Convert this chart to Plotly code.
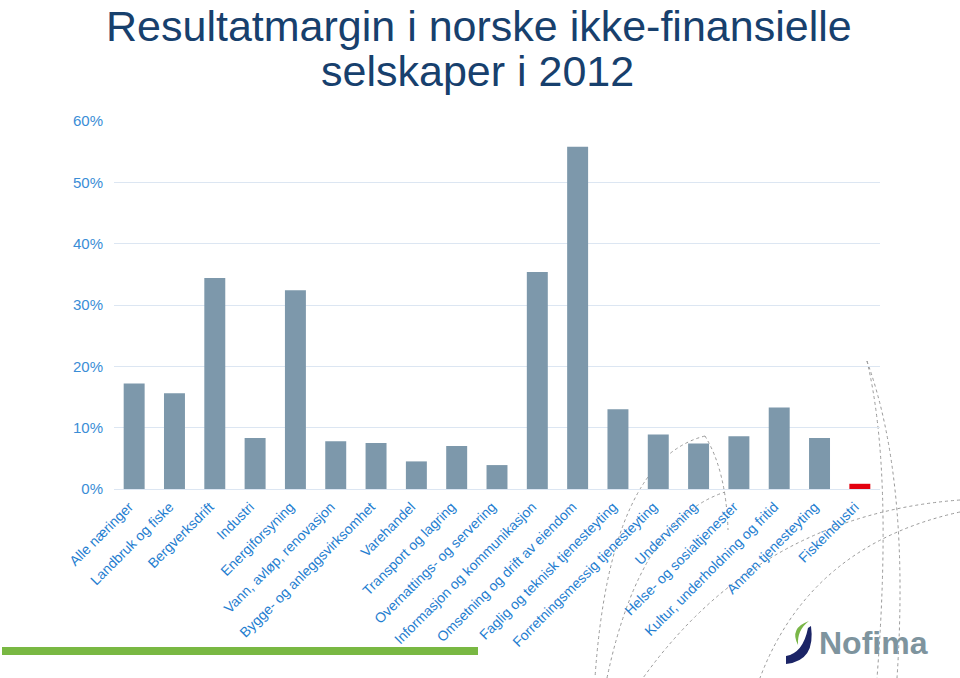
import plotly.graph_objects as go

categories = [
    "Alle næringer", "Landbruk og fiske", "Bergverksdrift", "Industri",
    "Energiforsyning", "Vann, avløp, renovasjon", "Bygge- og anleggsvirksomhet",
    "Varehandel", "Transport og lagring", "Overnattings- og servering",
    "Informasjon og kommunikasjon", "Omsetning og drift av eiendom",
    "Faglig og teknisk tjenesteyting", "Forretningsmessig tjenesteyting",
    "Undervisning", "Helse- og sosialtjenester", "Kultur, underholdning og fritid",
    "Annen tjenesteyting", "Fiskeindustri",
]
margin_pct = [17.2, 15.6, 34.4, 8.3, 32.4, 7.8, 7.5, 4.5, 7.0, 3.9,
              35.4, 55.8, 13.0, 8.9, 7.4, 8.6, 13.3, 8.3, 0.85]
y_ticks = [0, 10, 20, 30, 40, 50, 60]
y_tick_labels = ["0%", "10%", "20%", "30%", "40%", "50%", "60%"]
title_lines = ["Resultatmargin i norske ikke-finansielle", "selskaper i 2012"]

BAR = "#7D98AB"
HIGHLIGHT = "#E3000F"
colors = [HIGHLIGHT if c == "Fiskeindustri" else BAR for c in categories]

# plot area in screen pixels
L, R, T, B = 114, 880, 121, 489
W, H = 960, 678


def px(x):
    return (x - L) / (R - L)


def py(y):
    return (B - y) / (B - T)


def path(cmds):
    out = []
    for c in cmds:
        if isinstance(c, str):
            out.append(c)
        else:
            out.append(f"{px(c[0]):.4f},{py(c[1]):.4f}")
    return " ".join(out)


fig = go.Figure(go.Bar(
    x=categories, y=margin_pct, marker=dict(color=colors, line=dict(width=0)),
    width=0.52,
))

shapes = []
arcs = [
    ["M", (867, 361), "Q", (893, 470), (877, 678)],
    ["M", (867, 361), "Q", (910, 480), (897, 678)],
    ["M", (960, 500), "Q", (760, 515), (643, 678)],
    ["M", (960, 512), "Q", (810, 545), (760, 678)],
    ["M", (705, 436), "Q", (610, 460), (595, 678)],
    ["M", (607, 678), "Q", (640, 520), (725, 492)],
    ["M", (705, 436), "Q", (726, 470), (728, 530)],
]
for a in arcs:
    shapes.append(dict(type="path", xref="paper", yref="paper", path=path(a),
                       line=dict(color="#9A9A9A", width=1, dash="dot"), layer="below"))
shapes.append(dict(type="rect", xref="paper", yref="paper",
                   x0=px(2), x1=px(478), y0=py(655), y1=py(647),
                   fillcolor="#79B843", line=dict(width=0)))
shapes.append(dict(type="path", xref="paper", yref="paper",
                   path=path(["M", (786, 656), "Q", (803, 653), (808, 628), "L", (811, 626),
                              "Q", (816, 661), (786, 664), "Z"]),
                   fillcolor="#1B2466", line=dict(width=0)))
shapes.append(dict(type="path", xref="paper", yref="paper",
                   path=path(["M", (809, 621), "Q", (789, 628), (798, 645),
                              "Q", (797, 630), (809, 621), "Z"]),
                   fillcolor="#7AB648", line=dict(width=0)))

title_font = dict(family="Liberation Sans, Arial", size=43, color="#17406D")
annotations = [
    dict(text=title_lines[0], xref="paper", yref="paper", x=px(479), y=py(0),
         xanchor="center", yanchor="top", showarrow=False, font=title_font),
    dict(text=title_lines[1], xref="paper", yref="paper", x=px(477), y=py(71),
         xanchor="center", yanchor="middle", showarrow=False, font=title_font),
    dict(text="<b>Nofima</b>", xref="paper", yref="paper", x=px(817), y=py(643),
         xanchor="left", yanchor="middle", showarrow=False,
         font=dict(family="Liberation Sans, Arial", size=32, color="#7E949E")),
]

fig.update_layout(
    width=W, height=H,
    margin=dict(l=L, r=W - R, t=T, b=H - B, autoexpand=False),
    paper_bgcolor="white", plot_bgcolor="white",
    showlegend=False, hovermode=False,
    shapes=shapes, annotations=annotations,
    font=dict(family="Liberation Sans, Arial", color="#2A82D0"),
)
fig.update_xaxes(
    tickangle=-45, tickfont=dict(size=14, color="#1F7ED0"),
    showgrid=False, showline=False, ticks="", fixedrange=True,
    ticklabelstandoff=6, ticklabelshift=-5,
)
fig.update_yaxes(
    range=[0, 60], tickvals=y_ticks, ticktext=y_tick_labels,
    tickfont=dict(size=15, color="#3A8DD6"),
    gridcolor="#DCE6F2", gridwidth=1, zeroline=True, zerolinecolor="#DCE6F2",
    zerolinewidth=1, showline=False, ticks="", ticklabelstandoff=10, fixedrange=True,
)

fig.write_html(
    "out.html",
    config={"displayModeBar": False},
    post_script="document.body.style.margin='0';document.body.style.overflow='hidden';",
)
